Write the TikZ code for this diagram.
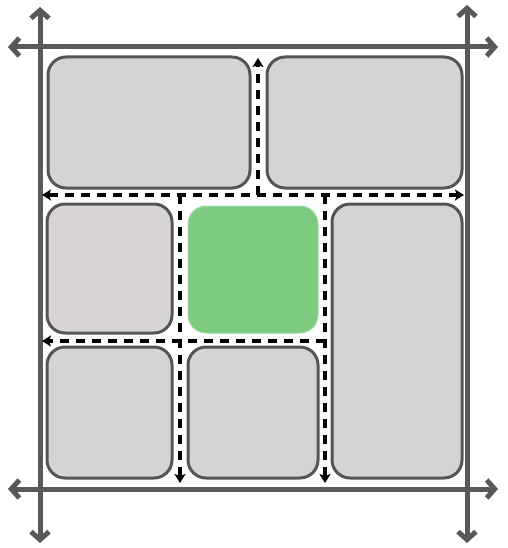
\documentclass[tikz,border=0pt]{standalone}
\usetikzlibrary{arrows.meta}
\definecolor{axisgray}{HTML}{595959}
\definecolor{boxfill}{HTML}{D4D4D4}
\definecolor{boxfillb}{HTML}{D8D4D8}
\definecolor{greenfill}{HTML}{7DCB81}
\definecolor{boxedge}{HTML}{555555}
\begin{document}
\begin{tikzpicture}[x=1pt,y=-1pt,
  axis/.style={draw=axisgray,line width=5pt,
    {Straight Barb[length=8pt,width=18pt,line width=5pt]}-{Straight Barb[length=8pt,width=18pt,line width=5pt]}},
  panel/.style={draw=boxedge,line width=3pt,fill=boxfill,rounded corners=18pt,
    inner sep=0pt,outer sep=0pt},
  hot/.style={fill=greenfill,draw=greenfill!70!white,line width=1pt,rounded corners=18pt,
    inner sep=0pt,outer sep=0pt},
  guide/.style={draw=black,line width=3.5pt,dash pattern=on 9pt off 7pt},
  gtip/.style={-{Stealth[length=9pt,width=11pt,inset=2pt]}}
]
\useasboundingbox[fill=white] (0,0) rectangle (507,548);
% panels
\node[panel,minimum width=202pt,minimum height=131pt] (tl) at (149,122.5) {};
\node[panel,minimum width=195pt,minimum height=131pt] (tr) at (364.5,122.5) {};
\node[panel,fill=boxfillb,minimum width=125pt,minimum height=129pt] (ml) at (109.5,268.5) {};
\node[hot,minimum width=130pt,minimum height=127pt] (mc) at (253,269.5) {};
\node[panel,minimum width=130pt,minimum height=274pt] (rt) at (397,341) {};
\node[panel,minimum width=125pt,minimum height=131pt] (bl) at (109.5,412.5) {};
\node[panel,minimum width=130pt,minimum height=131pt] (bm) at (253,412.5) {};
% axes
\coordinate (lt) at (40,7);   \coordinate (lb) at (40,543);
\coordinate (rtop) at (467,5); \coordinate (rb) at (467,543);
\coordinate (tleft) at (8,47); \coordinate (tright) at (498,47);
\coordinate (bleft) at (8,489); \coordinate (bright) at (498,489);
\draw[axis] (lb) -- (lt);
\draw[axis] (rb) -- (rtop);
\draw[axis] (tleft) -- (tright);
\draw[axis] (bleft) -- (bright);
% dashed guides
\coordinate (h1l) at (42,195); \coordinate (h1r) at (464,195);
\coordinate (v1t) at (258,58); \coordinate (v1b) at (258,195);
\coordinate (v2t) at (180,195); \coordinate (v2b) at (180,483);
\coordinate (v3t) at (325,195); \coordinate (v3b) at (325,483);
\coordinate (h2r) at (325,341); \coordinate (h2l) at (42,341);
\draw[guide,{Stealth[length=9pt,width=11pt,inset=2pt]}-{Stealth[length=9pt,width=11pt,inset=2pt]}] (h1l) -- (h1r);
\draw[guide,gtip] (v1b) -- (v1t);
\draw[guide,gtip] (v2t) -- (v2b);
\draw[guide,gtip] (v3t) -- (v3b);
\draw[guide,gtip] (h2r) -- (h2l);
\end{tikzpicture}
\end{document}
